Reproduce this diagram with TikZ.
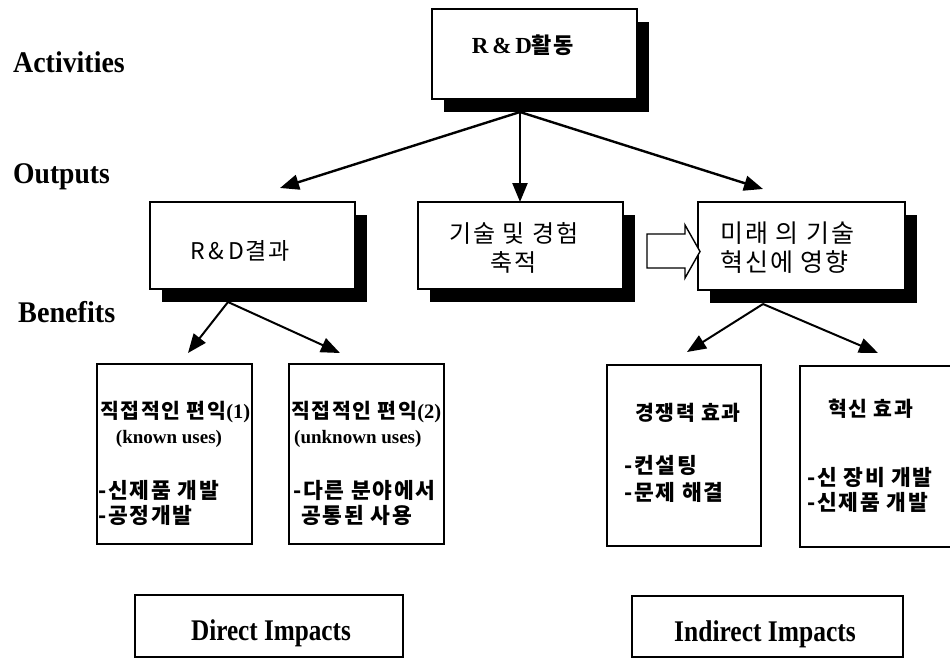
\documentclass[tikz,border=0pt]{standalone}
\usepackage{graphicx}
\usepackage{fontspec}
\setmainfont{Liberation Serif}
\newfontfamily\kr[LetterSpace=8]{Noto Sans CJK KR}
\usetikzlibrary{arrows.meta,shadows}
\begin{document}
\begin{tikzpicture}[x=1pt,y=-1pt,
  box/.style={draw, line width=1.4pt, fill=white, inner sep=0pt, rectangle},
  shadowed/.style={general shadow={fill=black, shadow xshift=12pt, shadow yshift=-13pt}},
  lbl/.style={font=\fontsize{30}{32}\selectfont\bfseries, anchor=base west, inner sep=0pt},
  imp/.style={font=\fontsize{30}{32}\selectfont\bfseries, anchor=base, inner sep=0pt},
  otxt/.style={font=\kr\fontsize{24}{29}\selectfont, inner sep=0pt},
  btxt/.style={font=\kr\bfseries\fontsize{20.5}{22}\selectfont, inner sep=0pt, anchor=west},
  bul/.style={font=\kr\bfseries\fontsize{21.5}{22}\selectfont, inner sep=0pt, anchor=west},
  etxt/.style={font=\fontsize{19}{22}\selectfont\bfseries, inner sep=0pt},
  arr/.style={-{Triangle[length=19pt,width=15pt]}, line width=2.4pt},
  barr/.style={-{Triangle[length=19pt,width=15pt]}, line width=2pt}]
\useasboundingbox (0,0) rectangle (950,659);

% left labels
\node[lbl] (lact) at (13,72) {\scalebox{0.93}[1]{Activities}};
\node[lbl] (lout) at (13,183) {\scalebox{0.92}[1]{Outputs}};
\node[lbl] (lben) at (18,322) {\scalebox{0.94}[1]{Benefits}};

% top box
\node[box, shadowed, minimum width=205, minimum height=90] (rd) at (534.5,54) {};
\node[inner sep=0pt] (rdt) at (523,45) {\fontsize{23}{26}\selectfont\bfseries R\,\&\,D{\kr\bfseries\fontsize{22}{26}\selectfont 활동}};

% outputs row
\node[box, shadowed, minimum width=205, minimum height=87] (a) at (252.5,245.5) {};
\node[box, shadowed, minimum width=205, minimum height=87] (b) at (520.5,245.5) {};
\node[box, shadowed, minimum width=207, minimum height=88] (c) at (801.5,246) {};
\node[otxt, font=\kr\fontsize{23}{29}\selectfont] (at) at (240,251) {R\,\&\,D결과};
\node[otxt, align=center] (bt) at (514,247.5) {기술 및 경험\\축적};
\node[otxt, font=\kr\fontsize{25}{29}\selectfont, align=left, anchor=west] (ct) at (720,247.5) {미래 의 기술\\혁신에 영향};

% hollow block arrow
\draw[line width=1.4pt, fill=white] (647,234) -- (685,234) -- (685,225) -- (700,251.5)
  -- (685,278) -- (685,268) -- (647,268) -- cycle;

% top arrows
\coordinate (rdo) at (520,112);
\coordinate (aIn) at (280,188);
\coordinate (bIn) at (520,202);
\coordinate (cIn) at (763,189);
\draw[arr] (rdo) -- (aIn);
\draw[arr] (rdo) -- (bIn);
\draw[arr] (rdo) -- (cIn);

% benefits boxes
\node[box, minimum width=155, minimum height=180] (d1) at (174.5,454) {};
\node[box, minimum width=155, minimum height=180] (d2) at (366.5,454) {};
\node[box, minimum width=154, minimum height=181] (e1) at (684,455.5) {};
\node[box, minimum width=151, minimum height=181] (e2) at (875.5,456.5) {};

% benefit arrows
\coordinate (ao) at (228,302);
\coordinate (d1In) at (188,353);
\coordinate (d2In) at (340,353);
\coordinate (co) at (763,304);
\coordinate (e1In) at (687,352);
\coordinate (e2In) at (878,353);
\draw[barr] (ao) -- (d1In);
\draw[barr] (ao) -- (d2In);
\draw[barr] (co) -- (e1In);
\draw[barr] (co) -- (e2In);

% benefit texts
\node[btxt] (d1a) at (100,412) {직접적인 편익{\rmfamily\bfseries(1)}};
\node[etxt] (d1b) at (169,439) {(known uses)};
\node[bul] (d1c) at (98,490) {-신제품 개발};
\node[bul] (d1d) at (98,515) {-공정개발};

\node[btxt] (d2a) at (291,412) {직접적인 편익{\rmfamily\bfseries(2)}};
\node[etxt, anchor=west] (d2b) at (294,439) {(unknown uses)};
\node[bul] (d2c) at (293,490) {-다른 분야에서};
\node[bul] (d2d) at (301,515) {공통된 사용};

\node[btxt] (e1a) at (635,413) {경쟁력 효과};
\node[bul] (e1b) at (624,465) {-컨설팅};
\node[bul] (e1c) at (624,492) {-문제 해결};

\node[btxt] (e2a) at (828,409) {혁신 효과};
\node[bul] (e2b) at (807,477) {-신 장비 개발};
\node[bul] (e2c) at (807,502) {-신제품 개발};

% impacts
\node[box, line width=1.2pt, minimum width=268, minimum height=62] (dir) at (269,626) {};
\node[box, line width=1.2pt, minimum width=271, minimum height=61] (ind) at (767.5,626.5) {};
\node[imp] (dirt) at (271,640) {\scalebox{0.84}[1]{Direct Impacts}};
\node[imp] (indt) at (765,641) {\scalebox{0.85}[1]{Indirect Impacts}};
\end{tikzpicture}
\end{document}
